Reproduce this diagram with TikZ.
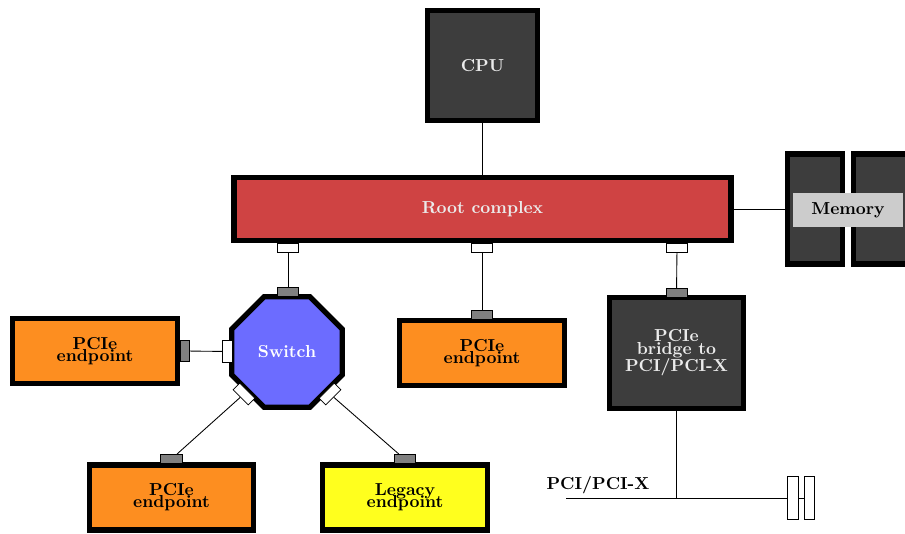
\documentclass[tikz,border=0pt]{standalone}
\usepackage{tikz}
\usetikzlibrary{shapes,positioning,calc}
\definecolor{darkbox}{RGB}{61,61,61}
\definecolor{rootred}{RGB}{207,67,67}
\definecolor{switchblue}{RGB}{108,108,255}
\definecolor{eporange}{RGB}{253,142,32}
\definecolor{legyellow}{RGB}{255,255,30}
\definecolor{portgray}{RGB}{128,128,128}
\definecolor{memgray}{RGB}{204,204,204}
\tikzset{box/.style={draw=black,line width=3pt,font=\bfseries,align=center,inner sep=0pt},
         cpu/.style={box,fill=darkbox,text=white!92!black,minimum width=63.4pt,minimum height=63.4pt},
         root/.style={box,fill=rootred,text=white!92!black,minimum width=286.7pt,minimum height=36.2pt},
         endpoint/.style={box,fill=eporange,minimum width=95pt,minimum height=37.5pt},
         legacy/.style={endpoint,fill=legyellow},
         bridge/.style={box,fill=darkbox,text=white!92!black,minimum width=77.2pt,minimum height=63.9pt},
         switch/.style={box,regular polygon,regular polygon sides=8,fill=switchblue,text=white,minimum size=69pt},
         memstick/.style={box,fill=darkbox,minimum width=31.6pt,minimum height=63.4pt},
         memlabel/.style={fill=memgray,font=\bfseries,minimum width=63.5pt,minimum height=19.6pt,inner sep=0pt},
         dport/.style={draw,line width=0.4pt,fill=white,minimum width=12.3pt,minimum height=5.4pt,inner sep=0pt},
         uport/.style={dport,fill=portgray},
         term/.style={draw,line width=0.4pt,fill=white,minimum width=6pt,minimum height=25pt,inner sep=0pt},
         link/.style={draw,line width=0.5pt}}

\begin{document}
\begin{tikzpicture}[x=0.577pt,y=-0.577pt]
\useasboundingbox (0,0) rectangle (905,534);
\node[cpu] (cpu) at (482.5,65.5) {CPU};
\node[root] (root) at (482.5,209) {Root complex};
\node[memstick] (mem1) at (815,209) {};
\node[memstick] (mem2) at (881,209) {};
\node[memlabel] (memlabel) at (848,210) {Memory};
\node[dport] (rp1) at (288,248) {};
\node[dport] (rp2) at (482,248) {};
\node[dport] (rp3) at (677,248) {};
\node[switch] (switch) at (287,352) {Switch};
\node[uport] (sup) at (288,292) {};
\node[dport,rotate=90] (sleft) at (227.5,351.5) {};
\node[dport,rotate=-45] (sll) at (244,394) {};
\node[dport,rotate=45] (slr) at (330,394) {};
\node[endpoint] (ep1) at (95,351) {PCIe\\[-5pt]endpoint};
\node[uport,rotate=90] (ep1port) at (185,351) {};
\node[endpoint] (ep2) at (482,353) {PCIe\\[-5pt]endpoint};
\node[uport] (ep2port) at (482,315) {};
\node[bridge] (bridge) at (676.5,353) {PCIe\\[-4.5pt]bridge to\\[-2.2pt]PCI/PCI-X};
\node[uport] (brport) at (676.5,293) {};
\node[endpoint] (ep3) at (171.5,497.5) {PCIe\\[-5pt]endpoint};
\node[uport] (ep3port) at (171.5,459) {};
\node[legacy] (legacy) at (405,497.5) {Legacy\\[-5pt]endpoint};
\node[uport] (legport) at (404.5,459) {};
\node[term] (term1) at (793,498) {};
\node[term] (term2) at (809.5,498) {};
\coordinate (busleft) at (566,498);
\coordinate (busjoin) at (676.5,498);
\node[font=\bfseries] (pcilabel) at (598,485) {PCI/PCI-X};
\draw[link] (cpu) -- (root);
\draw[link] (root) -- (mem1);
\draw[link] (rp1) -- (sup);
\draw[link] (rp2) -- (ep2port);
\draw[link] (rp3) -- (brport);
\draw[link] (ep1port) -- (sleft);
\draw[link] (sll) -- (ep3port);
\draw[link] (slr) -- (legport);
\draw[link] (bridge) -- (busjoin);
\draw[link] (busleft) -- (term1);
\draw[link] (term1) -- (term2);
\end{tikzpicture}
\end{document}
